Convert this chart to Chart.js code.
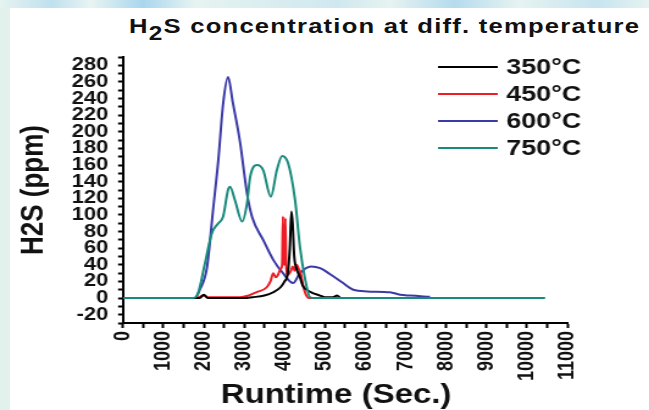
<!DOCTYPE html>
<html>
<head>
<meta charset="utf-8">
<script src="https://cdn.jsdelivr.net/npm/chart.js@4"></script>
<style>
  html, body { margin: 0; padding: 0; }
  body {
    width: 649px; height: 410px; overflow: hidden; position: relative;
    background: #e3f1ec;
    font-family: 'Liberation Sans', Arial, sans-serif;
  }
  #band {
    position: absolute; left: 0; top: 0; width: 649px; height: 8px;
    background: linear-gradient(90deg, #e6f3f1 0%, #bfe0ee 8%, #e8f4f2 14%, #a9d6ee 22%, #e6f3f1 30%,
      #cfe8ef 52%, #e6f3f1 60%, #b5dbee 70%, #e6f3f1 80%, #c6e4ef 92%, #e6f3f1 100%);
  }
  #panel { position: absolute; left: 10px; top: 8px; width: 639px; height: 402px; background: #fff; }
  #title {
    position: absolute; left: 129px; top: 15px; white-space: nowrap;
    font-weight: bold; font-size: 21px; line-height: 21px; letter-spacing: 1px; color: #111;
    transform: scaleX(1.22); transform-origin: 0 0;
  }
  #title sub { font-size: 20px; position: relative; top: 7px; vertical-align: baseline; }
  #chart { position: absolute; left: 0; top: 0; transform: scaleX(1.22); transform-origin: 0 0; }
</style>
</head>
<body>
<div id="band"></div>
<div id="panel"></div>
<div id="title">H<sub>2</sub>S concentration at diff. temperature</div>
<canvas id="chart" width="532" height="410"></canvas>
<script>
// runtime (s) and H2S (ppm) for each temperature
const labels = ['350°C', '450°C', '600°C', '750°C'];
const colors = ['#000000', '#ee1c24', '#3a3aa6', '#188a7c'];

const t350 = [0, 1900, 2000, 2100, 3000, 3200, 3500, 3720, 3900, 4000, 4080, 4130, 4170, 4200, 4240, 4300, 4380, 4450, 4550, 4700, 4880, 5000, 5200, 5300, 5400, 7600];
const v350 = [0, 0, 4, 0, 0, 1, 3, 7, 13, 20, 30, 60, 104, 90, 50, 35, 25, 15, 10, 6, 3, 1, 1, 3, 0, 0];

const t450 = [0, 1800, 2000, 2100, 2900, 3100, 3310, 3560, 3650, 3720, 3780, 3840, 3900, 3940, 3960, 3980, 4000, 4020, 4040, 4080, 4150, 4200, 4250, 4300, 4350, 4400, 4460, 4520, 4600, 7600];
const v450 = [0, 0, 3, 1, 1, 3, 7, 13, 20, 30, 25, 28, 35, 40, 98, 45, 40, 96, 40, 28, 32, 38, 33, 40, 35, 30, 15, 5, 0, 0];

const t600 = [0, 1780, 1900, 2080, 2230, 2360, 2480, 2600, 2720, 2900, 3070, 3200, 3470, 3720, 3960, 4210, 4380, 4660, 4880, 5120, 5450, 5700, 6040, 6610, 6860, 7110, 7600];
const v600 = [0, 0, 10, 37, 106, 166, 234, 266, 235, 187, 126, 97, 70, 46, 30, 18, 30, 38, 36, 29, 18, 10, 8, 7, 4, 3, 1.5];

const t750 = [0, 1740, 1860, 2030, 2200, 2360, 2480, 2600, 2650, 2770, 2950, 3070, 3150, 3320, 3470, 3660, 3810, 3940, 4090, 4260, 4380, 4500, 4630, 4750, 10450];
const v750 = [0, 0, 6, 42, 78, 90, 98, 130, 134, 118, 92, 114, 146, 160, 154, 122, 154, 171, 162, 118, 62, 25, 1, 0, 0];

const xTicks = [0, 1000, 2000, 3000, 4000, 5000, 6000, 7000, 8000, 9000, 10000, 11000];

const series = [[t350, v350], [t450, v450], [t600, v600], [t750, v750]];
const drawOrder = [1, 2, 3, 0];

const FONT = "'Liberation Sans', Arial, sans-serif";

// legend drawn inside the plot, top right
const legendBox = {
  id: 'legendBox',
  afterDraw(chart) {
    const ctx = chart.ctx;
    ctx.save();
    ctx.font = 'bold 22px ' + FONT;
    ctx.textBaseline = 'middle';
    chart.data.datasets.forEach((ds, i) => {
      const y = 67 + i * 27;
      ctx.strokeStyle = ds.borderColor;
      ctx.lineWidth = 2;
      ctx.beginPath();
      ctx.moveTo(359, y);
      ctx.lineTo(408, y);
      ctx.stroke();
      ctx.fillStyle = '#111';
      ctx.fillText(ds.label, 415, y + 1);
    });
    ctx.restore();
  }
};

new Chart(document.getElementById('chart'), {
  type: 'line',
  data: {
    datasets: series.map(([t, v], i) => ({
      label: labels[i],
      data: t.map((x, k) => ({ x: x, y: v[k] })),
      borderColor: colors[i],
      borderWidth: 2,
      pointRadius: 0,
      cubicInterpolationMode: 'monotone',
      order: drawOrder[i]
    }))
  },
  options: {
    responsive: false,
    animation: false,
    devicePixelRatio: 1,
    layout: { padding: { top: 57, right: 67, bottom: 0, left: 0 } },
    plugins: { legend: { display: false }, tooltip: { enabled: false } },
    scales: {
      x: {
        type: 'linear',
        min: 0, max: 11000,
        afterFit(scale) { scale.height = 87; },
        border: { display: true, color: '#000', width: 2 },
        grid: { drawOnChartArea: false, drawTicks: true, tickLength: 5, tickColor: '#000', tickWidth: 2 },
        ticks: {
          stepSize: 500, autoSkip: false, minRotation: 90, maxRotation: 90, padding: 3,
          color: '#111', font: { family: FONT, size: 18, weight: 'bold' },
          callback: v => xTicks.includes(v) ? String(v) : ''
        },
        title: {
          display: true, text: 'Runtime (Sec.)  ', color: '#111',
          font: { family: FONT, size: 27, weight: 'bold', lineHeight: 1 },
          padding: { top: 0, bottom: 1 }
        }
      },
      y: {
        min: -30, max: 290,
        afterFit(scale) { scale.width = 100.8; },
        border: { display: true, color: '#000', width: 2 },
        grid: { drawOnChartArea: false, drawTicks: true, tickLength: 4, tickColor: '#000', tickWidth: 2 },
        ticks: {
          stepSize: 10, autoSkip: false, padding: 8,
          color: '#111', font: { family: FONT, size: 18, weight: 'bold', lineHeight: 1 },
          callback: v => v % 20 === 0 ? String(v) : ''
        },
        title: {
          display: true, text: 'H2S (ppm)', color: '#111',
          font: { family: FONT, size: 26, weight: 'bold', lineHeight: 1 },
          padding: { top: 15, bottom: 0 }
        }
      }
    }
  },
  plugins: [legendBox]
});
</script>
</body>
</html>
